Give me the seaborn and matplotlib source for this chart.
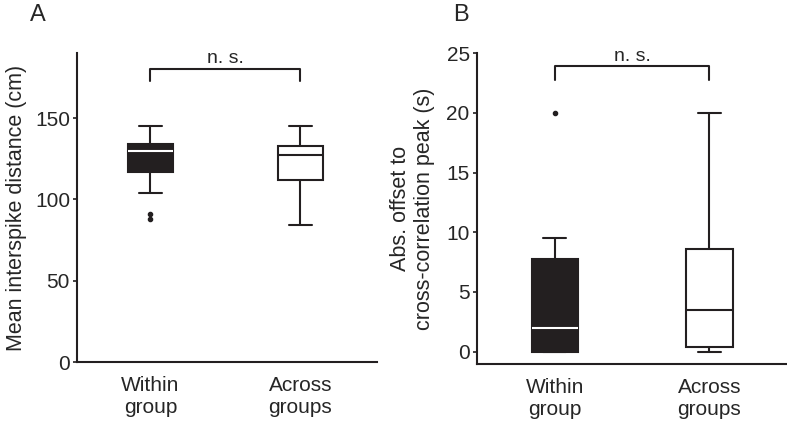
import matplotlib
matplotlib.use("Agg")
import matplotlib.pyplot as plt
import seaborn as sns
import pandas as pd

# Данные (значения отдельных наблюдений, подобраны по квартилям с картинки)
groups = ["Within\ngroup", "Across\ngroups"]

# Панель A: средняя дистанция между спайками (см)
dist_within = [88, 91, 104, 117, 120, 125, 130, 131, 133, 134, 138, 142, 145]
dist_across = [84, 100, 108, 112, 118, 123, 127, 129, 131, 133, 137, 141, 145]

# Панель B: смещение до пика кросс-корреляции (с)
offset_within = [0, 0, 0, 0, 0.5, 1, 2, 4, 6, 7.8, 8.5, 9.5, 20]
offset_across = [0, 0.1, 0.3, 0.4, 1, 2, 3.5, 5, 6.5, 8.6, 11, 15, 20]

ink = "#231f20"
fs = 15

sns.set_style("ticks")
plt.rcParams["font.family"] = ["Liberation Sans", "DejaVu Sans"]
plt.rcParams["font.size"] = fs


def make_df(a, b):
    return pd.DataFrame({
        "group": [groups[0]] * len(a) + [groups[1]] * len(b),
        "value": list(a) + list(b),
    })


def draw_panel(ax, df, ylim, yticks, xlim, ylabel, bracket, ns_y, labelpad):
    sns.boxplot(data=df, x="group", y="value", hue="group", order=groups,
                hue_order=groups, palette=[ink, "white"], legend=False,
                width=0.3, linewidth=1.5, linecolor=ink, saturation=1,
                flierprops=dict(marker="o", markersize=3, markerfacecolor=ink,
                                markeredgecolor=ink), ax=ax)
    # медиана белая у чёрного ящика
    ax.containers[0].medians[0].set_color("white")
    ax.containers[1].medians[0].set_color(ink)

    ax.set_ylim(*ylim)
    ax.set_xlim(*xlim)
    ax.set_yticks(yticks)
    ax.set_xlabel("")
    ax.set_ylabel(ylabel, labelpad=labelpad, fontsize=15.5)
    sns.despine(ax=ax)
    for s in ["left", "bottom"]:
        ax.spines[s].set_linewidth(1.5)
        ax.spines[s].set_color(ink)
    ax.tick_params(axis="y", length=3, width=1.2, color=ink, pad=2, labelsize=fs)
    ax.tick_params(axis="x", length=0, pad=10, labelsize=fs)

    # скобка "n. s."
    lo, hi = bracket
    ax.plot([0, 0, 1, 1], [lo, hi, hi, lo], color=ink, lw=1.5, clip_on=False)
    ax.text(0.5, ns_y, "n. s.", ha="center", va="baseline", fontsize=14)


fig = plt.figure(figsize=(7.87, 4.24), dpi=100)
axA = fig.add_axes([0.0978, 0.1462, 0.3812, 0.7288])
axB = fig.add_axes([0.6057, 0.1408, 0.3939, 0.7335])

draw_panel(axA, make_df(dist_within, dist_across), (0, 190), [0, 50, 100, 150],
           (-0.49, 1.51), "Mean interspike distance (cm)", (172.8, 180), 184, 6)
draw_panel(axB, make_df(offset_within, offset_across), (-1.06, 25), [0, 5, 10, 15, 20, 25],
           (-0.505, 1.5), "Abs. offset to\ncross-correlation peak (s)", (22.8, 23.9), 24.35, 8)

fig.text(30 / 787, 1 - 4 / 424, "A", fontsize=17, va="top", ha="left")
fig.text(453 / 787, 1 - 4 / 424, "B", fontsize=17, va="top", ha="left")

fig.savefig("out.png", dpi=100)
